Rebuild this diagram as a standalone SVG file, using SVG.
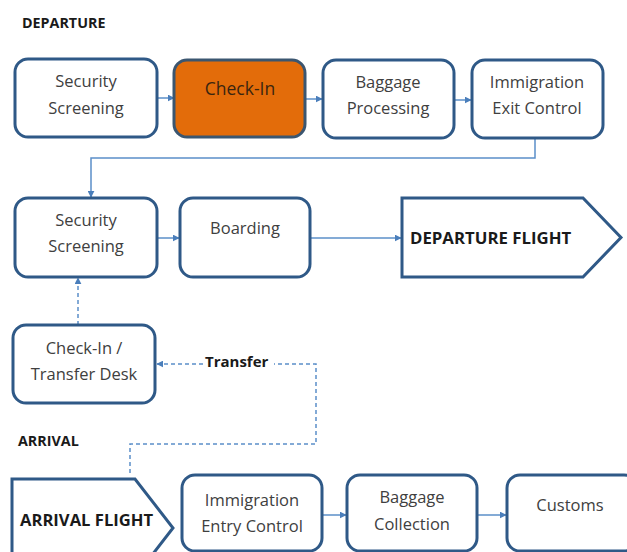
<svg xmlns="http://www.w3.org/2000/svg" width="627" height="552" viewBox="0 0 627 552">
<defs>
<marker id="ah" viewBox="0 0 10 10" refX="9" refY="5" markerWidth="7" markerHeight="7" markerUnits="userSpaceOnUse" orient="auto">
<path d="M0,0 L10,5 L0,10 z" fill="#4a7ebb"/>
</marker>
<style>
.box{fill:#fff;stroke:#2f5987;stroke-width:3}
.t{font-family:"Open Sans","Noto Sans",sans-serif;font-size:16.5px;fill:#404040;text-anchor:middle}
.h{font-family:"Open Sans","Noto Sans",sans-serif;font-weight:700;fill:#1a1a1a}
.c{fill:none;stroke:#5b8fc9;stroke-width:1.5}
.d{fill:none;stroke:#5b8fc9;stroke-width:1.5;stroke-dasharray:4 3}
</style>
</defs>
<rect width="627" height="552" fill="#fff"/>
<text class="h" x="22" y="28" font-size="14.3">DEPARTURE</text>
<text class="h" x="18" y="446" font-size="14.3">ARRIVAL</text>
<g id="connectors">
<line class="c" x1="157" y1="98" x2="174" y2="98" marker-end="url(#ah)"/>
<line class="c" x1="305" y1="99" x2="322" y2="99" marker-end="url(#ah)"/>
<line class="c" x1="454" y1="100" x2="471" y2="100" marker-end="url(#ah)"/>
<polyline class="c" points="535,138 535,158 91,158 91,197" marker-end="url(#ah)"/>
<line class="c" x1="157" y1="238" x2="179" y2="238" marker-end="url(#ah)"/>
<line class="c" x1="310" y1="238" x2="401" y2="238" marker-end="url(#ah)"/>
<line class="d" x1="78" y1="325" x2="78" y2="278" marker-end="url(#ah)"/>
<polyline class="d" points="130,473 130,444 316,444 316,364 274,364"/>
<line class="d" x1="203" y1="364" x2="157" y2="364" marker-end="url(#ah)"/>
<line class="c" x1="322" y1="515" x2="346" y2="515" marker-end="url(#ah)"/>
<line class="c" x1="477" y1="515" x2="506" y2="515" marker-end="url(#ah)"/>
<text class="h" x="205" y="367" font-size="15">Transfer</text>
</g>
<g id="dep-security">
<rect class="box" x="15" y="59" width="142" height="78" rx="13"/>
<text class="t" x="86" y="87">Security</text>
<text class="t" x="86" y="114">Screening</text>
</g>
<g id="checkin">
<rect x="174" y="60" width="131" height="77" rx="13" fill="#e36c0a" stroke="#3b5670" stroke-width="3"/>
<text class="t" x="240" y="95" style="fill:#3a2510;font-size:17.5px">Check-In</text>
</g>
<g id="baggage-processing">
<rect class="box" x="323" y="60" width="131" height="78" rx="13"/>
<text class="t" x="388" y="88">Baggage</text>
<text class="t" x="388" y="114">Processing</text>
</g>
<g id="immigration-exit">
<rect class="box" x="472" y="60" width="131" height="78" rx="13"/>
<text class="t" x="537" y="88">Immigration</text>
<text class="t" x="537" y="114">Exit Control</text>
</g>
<g id="security-2">
<rect class="box" x="15" y="198" width="142" height="79" rx="13"/>
<text class="t" x="86" y="226">Security</text>
<text class="t" x="86" y="252">Screening</text>
</g>
<g id="boarding">
<rect class="box" x="180" y="198" width="130" height="79" rx="13"/>
<text class="t" x="245" y="234">Boarding</text>
</g>
<g id="departure-flight">
<path class="box" d="M402,198 L583,198 L621,237.5 L583,277 L402,277 Z"/>
<text class="h" x="410" y="244" font-size="16.8">DEPARTURE FLIGHT</text>
</g>
<g id="transfer-desk">
<rect class="box" x="13" y="325" width="142" height="78" rx="13"/>
<text class="t" x="84" y="354">Check-In /</text>
<text class="t" x="84" y="380">Transfer Desk</text>
</g>
<g id="arrival-flight">
<path class="box" d="M12,479 L135,479 L173,528 L135,577 L12,577 Z"/>
<text class="h" x="20" y="526" font-size="16.6">ARRIVAL FLIGHT</text>
</g>
<g id="immigration-entry">
<rect class="box" x="182" y="475" width="140" height="76" rx="13"/>
<text class="t" x="252" y="506">Immigration</text>
<text class="t" x="252" y="532">Entry Control</text>
</g>
<g id="baggage-collection">
<rect class="box" x="347" y="475" width="130" height="76" rx="13"/>
<text class="t" x="412" y="503">Baggage</text>
<text class="t" x="412" y="530">Collection</text>
</g>
<g id="customs">
<rect class="box" x="507" y="475" width="130" height="76" rx="13"/>
<text class="t" x="570" y="511">Customs</text>
</g>
</svg>
